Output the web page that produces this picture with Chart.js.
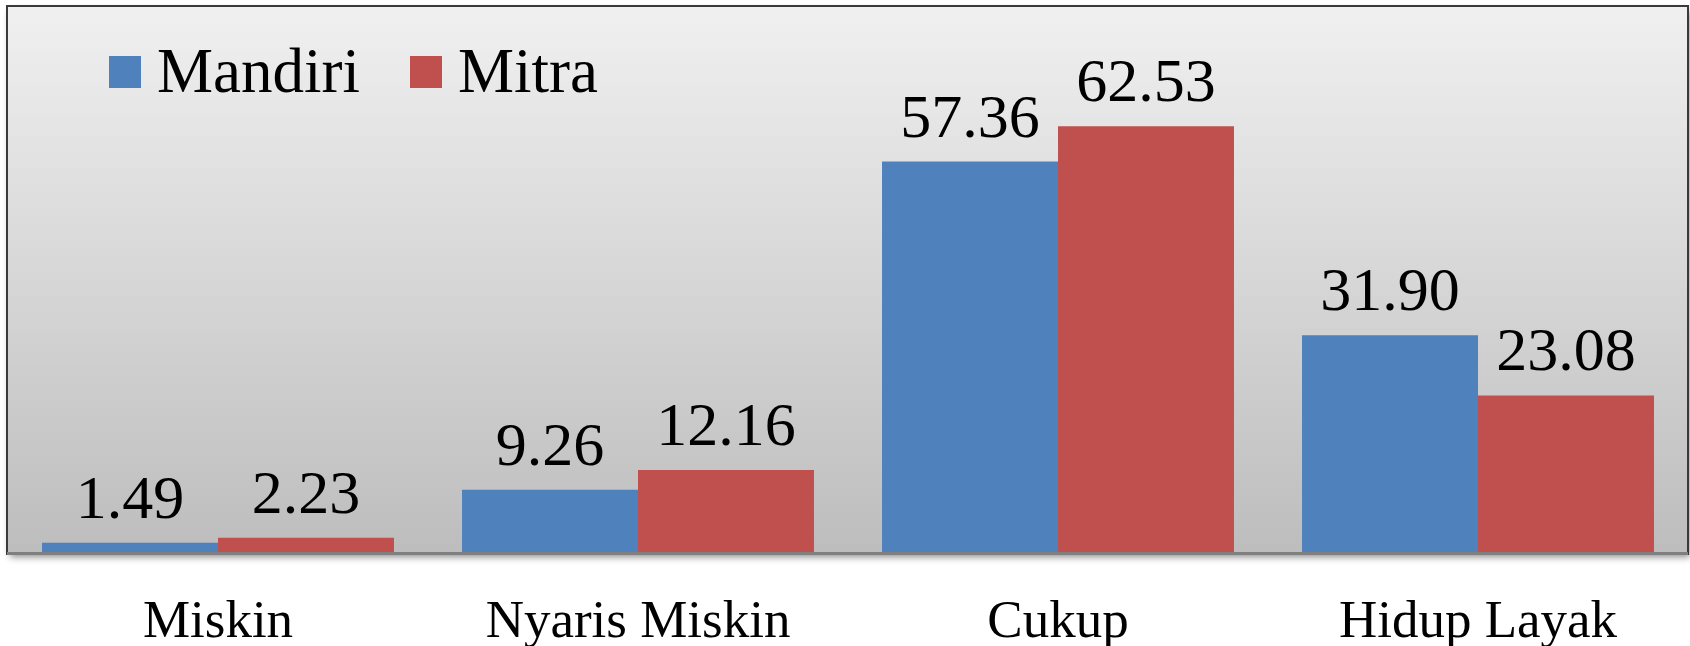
<!DOCTYPE html>
<html>
<head>
<meta charset="utf-8">
<script src="https://cdn.jsdelivr.net/npm/chart.js@4/dist/chart.umd.min.js"></script>
<style>
	body { margin: 0; background: #fff; }
	canvas { display: block; }
</style>
</head>
<body>
<canvas id="chartKesejahteraan" width="1690" height="646"></canvas>
<script>
const kategori = ["Miskin", "Nyaris Miskin", "Cukup", "Hidup Layak"];
const nilaiMandiri = [1.49, 9.26, 57.36, 31.9];
const nilaiMitra = [2.23, 12.16, 62.53, 23.08];
const namaSeri = ["Mandiri", "Mitra"];
const warnaSeri = ["#4f81bd", "#c0504d"];

const serif = "'Liberation Serif', 'Times New Roman', serif";

// gray gradient panel with a drop shadow behind the bars
const panelPlugin = {
	id: "panel",
	beforeDatasetsDraw(chart) {
		const { ctx, chartArea: a } = chart;
		ctx.save();
		ctx.shadowColor = "rgba(0,0,0,0.45)";
		ctx.shadowBlur = 7;
		ctx.shadowOffsetX = 2;
		ctx.shadowOffsetY = 4;
		ctx.fillStyle = "#c0c0c0";
		ctx.fillRect(a.left, a.top, a.right - a.left, a.bottom - a.top);
		ctx.restore();
		const grad = ctx.createLinearGradient(0, a.top, 0, a.bottom);
		grad.addColorStop(0, "#f0f0f0");
		grad.addColorStop(1, "#bdbdbd");
		ctx.fillStyle = grad;
		ctx.fillRect(a.left, a.top, a.right - a.left, a.bottom - a.top);
	},
	afterDatasetsDraw(chart) {
		const { ctx, chartArea: a } = chart;
		ctx.save();
		ctx.strokeStyle = "#3a3a3a";
		ctx.lineWidth = 2;
		ctx.strokeRect(a.left - 1, a.top - 1, a.right - a.left + 1, a.bottom - a.top + 2);
		ctx.strokeStyle = "#7f7f7f";
		ctx.lineWidth = 3;
		ctx.beginPath();
		ctx.moveTo(a.left - 1, a.bottom + 0.5);
		ctx.lineTo(a.right, a.bottom + 0.5);
		ctx.stroke();

		// value labels above each bar
		ctx.fillStyle = "#000";
		ctx.font = "62px " + serif;
		ctx.textAlign = "center";
		ctx.textBaseline = "alphabetic";
		chart.data.datasets.forEach((ds, i) => {
			chart.getDatasetMeta(i).data.forEach((bar, j) => {
				ctx.fillText(ds.data[j].toFixed(2), bar.x, bar.y - 25);
			});
		});

		// legend inside the panel, top left
		ctx.font = "63px " + serif;
		ctx.textAlign = "left";
		const posX = [109, 410];
		chart.data.datasets.forEach((ds, i) => {
			ctx.fillStyle = ds.backgroundColor;
			ctx.fillRect(posX[i], 56, 32, 32);
			ctx.fillStyle = "#000";
			ctx.fillText(ds.label, posX[i] + 48, 92);
		});
		ctx.restore();
	},
};

const ctx = document.getElementById("chartKesejahteraan");
const chart = new Chart(ctx, {
	type: "bar",
	data: {
		labels: kategori,
		datasets: [
			{ label: namaSeri[0], data: nilaiMandiri, backgroundColor: warnaSeri[0] },
			{ label: namaSeri[1], data: nilaiMitra, backgroundColor: warnaSeri[1] },
		],
	},
	options: {
		responsive: false,
		devicePixelRatio: 1,
		animation: false,
		layout: { padding: { left: 8, right: 2, top: 7, bottom: 0 } },
		datasets: {
			bar: { categoryPercentage: 0.838, barPercentage: 1.0, borderWidth: 0 },
		},
		plugins: {
			legend: { display: false },
			tooltip: { enabled: false },
		},
		scales: {
			x: {
				grid: { display: false },
				border: { display: false },
				ticks: {
					color: "#000",
					padding: 30,
					font: { family: serif, size: 53 },
				},
				afterFit(scale) {
					scale.height = 93;
				},
			},
			y: {
				display: false,
				min: 0,
				max: 80,
			},
		},
	},
	plugins: [panelPlugin],
});
</script>
</body>
</html>
